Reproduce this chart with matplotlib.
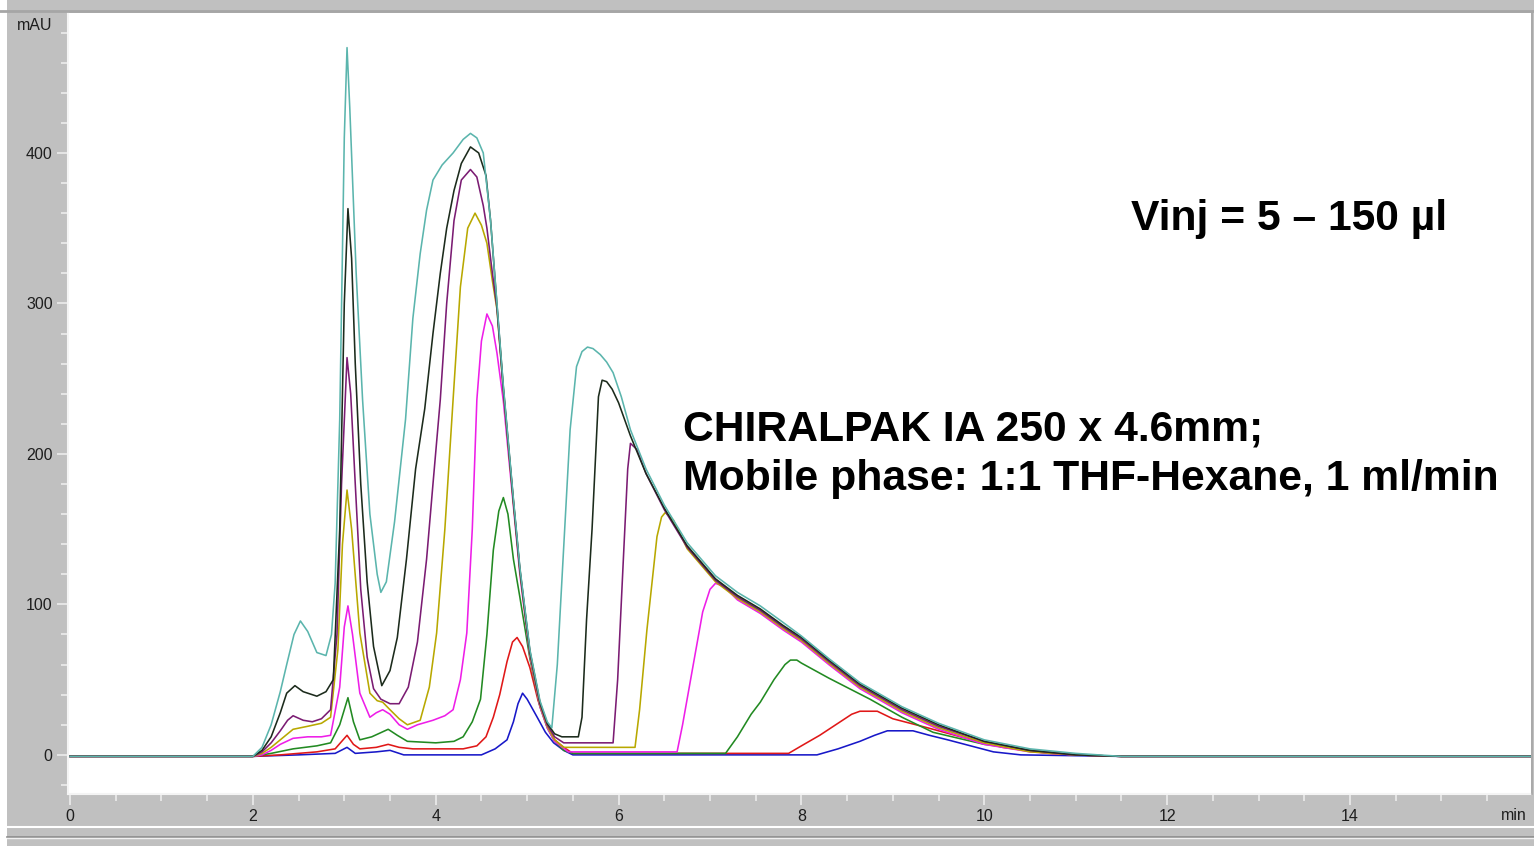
import matplotlib
matplotlib.use("Agg")
import matplotlib.pyplot as plt
from matplotlib.patches import Rectangle
from matplotlib.lines import Line2D
from matplotlib.ticker import MultipleLocator

plt.rcParams['font.family'] = ['Liberation Sans', 'DejaVu Sans']

# overlaid injections, largest volume first (time in min, signal in mAU)
teal_t = [0, 2.0, 2.1, 2.2, 2.3, 2.37, 2.45, 2.52, 2.6, 2.7, 2.8, 2.86, 2.9, 2.95, 3.0, 3.03,
          3.06, 3.13, 3.2, 3.28, 3.36, 3.4, 3.46, 3.55, 3.67, 3.75, 3.83, 3.9, 3.97, 4.07, 4.19,
          4.3, 4.38, 4.45, 4.52, 4.6, 4.67, 4.74, 4.85, 4.92, 5.03, 5.14, 5.22, 5.27, 5.33, 5.39,
          5.47, 5.54, 5.6, 5.66, 5.72, 5.8, 5.87, 5.94, 6.03, 6.13, 6.3, 6.5, 6.75, 7.06, 7.3,
          7.55, 7.8, 8.0, 8.3, 8.64, 9.1, 9.5, 10.0, 10.5, 11.0, 11.5, 16]
teal_y = [-1, -1, 5, 20, 42, 60, 80, 89, 82, 68, 66, 80, 114, 223, 410, 470,
          430, 320, 236, 160, 120, 108, 115, 155, 223, 290, 333, 362, 382, 392, 400,
          409, 413, 410, 400, 355, 300, 245, 170, 125, 70, 36, 22, 18, 60, 127,
          216, 258, 268, 271, 270, 266, 261, 254, 238, 216, 190, 166, 141, 119, 108,
          99, 88, 79, 64, 48, 32, 21, 10, 4, 1, -1, -1]

black_t = [0, 2.0, 2.1, 2.2, 2.3, 2.37, 2.46, 2.55, 2.7, 2.8, 2.88, 2.95, 3.0, 3.04, 3.08,
           3.12, 3.18, 3.25, 3.32, 3.41, 3.5, 3.58, 3.68, 3.78, 3.88, 3.97, 4.05, 4.12, 4.2,
           4.28, 4.38, 4.47, 4.55, 4.6, 4.67, 4.74, 4.85, 4.92, 5.03, 5.14, 5.22, 5.3, 5.38,
           5.56, 5.6, 5.65, 5.71, 5.78, 5.82, 5.87, 5.93, 6.0, 6.13, 6.3, 6.5, 6.75, 7.06, 7.3,
           7.55, 7.8, 8.0, 8.3, 8.64, 9.1, 9.5, 10.0, 10.5, 11.0, 11.5, 16]
black_y = [-1, -1, 3, 12, 28, 41, 46, 42, 39, 42, 50, 150, 300, 363, 330,
           260, 180, 115, 72, 46, 56, 78, 130, 190, 230, 280, 320, 350, 375,
           393, 404, 400, 385, 355, 299, 244, 169, 124, 69, 35, 21, 14, 12,
           12, 25, 90, 150, 238, 249, 248, 243, 234, 212, 187, 164, 139, 117, 106,
           97, 86, 78, 63, 47, 31, 20, 9, 3, 0, -1, -1]

purple_t = [0, 2.0, 2.1, 2.2, 2.3, 2.38, 2.44, 2.55, 2.65, 2.75, 2.85, 2.92, 2.97, 3.03, 3.07,
            3.12, 3.18, 3.25, 3.32, 3.4, 3.5, 3.6, 3.7, 3.8, 3.9, 3.97, 4.05, 4.12, 4.2, 4.28,
            4.38, 4.45, 4.52, 4.56, 4.62, 4.67, 4.74, 4.85, 4.92, 5.03, 5.14, 5.22, 5.3, 5.4,
            5.94, 5.99, 6.05, 6.1, 6.13, 6.2, 6.3, 6.5, 6.75, 7.06, 7.3, 7.55, 7.8, 8.0, 8.3,
            8.64, 9.1, 9.5, 10.0, 10.5, 11.0, 11.5, 16]
purple_y = [-1, -1, 2, 8, 16, 23, 26, 23, 22, 24, 30, 80, 180, 264, 240,
            180, 110, 65, 44, 37, 34, 34, 45, 75, 130, 180, 236, 300, 355, 382,
            389, 384, 365, 350, 320, 297, 242, 168, 123, 68, 34, 20, 12, 8,
            8, 50, 127, 190, 207, 203, 187, 163, 138, 116, 105, 96, 85, 77, 62,
            46, 30, 19, 9, 3, 0, -1, -1]

olive_t = [0, 2.0, 2.1, 2.2, 2.3, 2.44, 2.6, 2.75, 2.85, 2.93, 2.98, 3.03, 3.08, 3.17, 3.28,
           3.36, 3.42, 3.5, 3.6, 3.69, 3.83, 3.93, 4.01, 4.1, 4.19, 4.27, 4.35, 4.43, 4.5, 4.56,
           4.62, 4.67, 4.74, 4.85, 4.92, 5.03, 5.14, 5.22, 5.3, 5.4, 6.18, 6.23, 6.31, 6.42,
           6.47, 6.51, 6.6, 6.75, 7.06, 7.3, 7.55, 7.8, 8.0, 8.3, 8.64, 9.1, 9.5, 10.0, 10.5,
           11.0, 11.5, 16]
olive_y = [-1, -1, 1, 5, 10, 17, 19, 21, 25, 70, 140, 176, 150, 81, 41,
           36, 35, 30, 24, 20, 23, 45, 81, 150, 236, 311, 350, 360, 352, 340,
           315, 296, 242, 167, 122, 67, 33, 19, 10, 5, 5, 30, 83, 145,
           158, 161, 156, 137, 115, 104, 95, 84, 76, 61, 45, 29, 18, 8, 2,
           0, -1, -1]

magenta_t = [0, 2.0, 2.1, 2.2, 2.3, 2.44, 2.6, 2.75, 2.85, 2.95, 3.0, 3.04, 3.09, 3.17, 3.28,
             3.35, 3.42, 3.5, 3.6, 3.69, 3.8, 3.97, 4.1, 4.19, 4.27, 4.34, 4.4, 4.45, 4.5, 4.56,
             4.62, 4.67, 4.74, 4.85, 4.92, 5.03, 5.14, 5.22, 5.3, 5.45, 6.64, 6.7, 6.82, 6.92,
             7.0, 7.06, 7.15, 7.3, 7.55, 7.8, 8.0, 8.3, 8.64, 9.1, 9.5, 10.0, 10.5, 11.0, 11.5,
             16]
magenta_y = [-1, -1, 0, 3, 7, 11, 12, 12, 13, 45, 85, 99, 80, 41, 25,
             28, 30, 27, 20, 17, 20, 23, 26, 30, 50, 81, 150, 236, 275, 293,
             285, 267, 235, 165, 120, 66, 32, 18, 9, 2, 2, 20, 61, 95,
             110, 114, 112, 103, 94, 83, 75, 60, 44, 28, 17, 7, 2, 0, -1,
             -1]

green_t = [0, 2.0, 2.2, 2.44, 2.7, 2.85, 2.95, 3.04, 3.1, 3.17, 3.3, 3.48, 3.58, 3.69, 4.0,
           4.2, 4.3, 4.4, 4.49, 4.56, 4.63, 4.69, 4.74, 4.79, 4.85, 4.92, 5.03, 5.14, 5.22, 5.3,
           5.4, 5.5, 7.17, 7.3, 7.45, 7.55, 7.7, 7.82, 7.88, 7.95, 8.0, 8.3, 8.75, 9.1, 9.44,
           10.0, 10.5, 11.0, 11.5, 16]
green_y = [-1, -1, 1, 4, 6, 8, 20, 38, 22, 10, 12, 17, 13, 9, 8,
           9, 12, 22, 37, 80, 136, 162, 171, 160, 130, 105, 64, 32, 18, 9,
           3, 1, 1, 12, 27, 35, 50, 60, 63, 63, 61, 51, 37, 25, 15,
           7, 3, 0, -1, -1]

red_t = [0, 2.0, 2.3, 2.7, 2.9, 3.03, 3.1, 3.17, 3.35, 3.48, 3.6, 3.75, 4.3, 4.45, 4.55,
         4.63, 4.7, 4.78, 4.84, 4.89, 4.95, 5.03, 5.12, 5.22, 5.3, 5.4, 5.5, 7.86, 8.0, 8.2,
         8.4, 8.55, 8.64, 8.83, 9.0, 9.38, 9.74, 10.2, 10.7, 11.0, 11.5, 16]
red_y = [-1, -1, 0, 2, 4, 13, 7, 4, 5, 7, 5, 4, 4, 6, 12,
         25, 40, 62, 75, 78, 72, 58, 36, 19, 10, 5, 1, 1, 6, 13,
         21, 27, 29, 29, 24, 18, 12, 5, 1, 0, -1, -1]

blue_t = [0, 2.0, 2.5, 2.9, 3.03, 3.12, 3.35, 3.5, 3.65, 4.5, 4.65, 4.78, 4.85, 4.9, 4.95,
          5.0, 5.11, 5.2, 5.29, 5.4, 5.5, 8.17, 8.4, 8.64, 8.8, 8.94, 9.22, 9.4, 9.6, 9.85,
          10.1, 10.4, 11.5, 16]
blue_y = [-1, -1, 0, 1, 5, 1, 2, 3, 0, 0, 4, 10, 22, 34, 41,
          37, 25, 15, 8, 3, 0, 0, 4, 9, 13, 16, 16, 13, 10, 6,
          2, 0, -1, -1]

traces = [
    (blue_t, blue_y, '#1818c8'),
    (red_t, red_y, '#e01818'),
    (green_t, green_y, '#228a22'),
    (magenta_t, magenta_y, '#ee1ee8'),
    (olive_t, olive_y, '#b8a800'),
    (purple_t, purple_y, '#7b1c73'),
    (black_t, black_y, '#1c2b1c'),
    (teal_t, teal_y, '#5bb5ad'),
]

W, H = 1534, 846
fig = plt.figure(figsize=(W / 100, H / 100), dpi=100, facecolor='#c0c0c0')


def px_box(x0, y0, x1, y1):
    # pixel box (top-left origin) -> figure fractions
    return [x0 / W, 1 - y1 / H, (x1 - x0) / W, (y1 - y0) / H]


ax = fig.add_axes(px_box(68, 13, 1531, 794))
ax.set_facecolor('white')

for t, y, c in traces:
    ax.plot(t, y, color=c, lw=1.15, solid_joinstyle='round')

ax.set_xlim(-0.022, 15.98)
ax.set_ylim(-26, 493)

ax.xaxis.set_major_locator(MultipleLocator(2))
ax.xaxis.set_minor_locator(MultipleLocator(0.5))
ax.yaxis.set_major_locator(MultipleLocator(100))
ax.yaxis.set_minor_locator(MultipleLocator(20))
ax.set_yticks([0, 100, 200, 300, 400])

ax.tick_params(which='both', direction='out', color='#ececec', width=1.2,
               labelsize=11.5, labelcolor='#1e1e1e')
ax.tick_params(which='major', length=8, pad=3)
ax.tick_params(which='minor', length=5)
ax.tick_params(axis='x', which='major', pad=3)

for side in ['top', 'right']:
    ax.spines[side].set_visible(False)
for side in ['left', 'bottom']:
    ax.spines[side].set_color('#f4f4f4')
    ax.spines[side].set_linewidth(1.5)

# axis units
fig.text(35 / W, 1 - 25 / H, 'mAU', ha='center', va='center', fontsize=11.5, color='#1e1e1e')
fig.text(1514 / W, 1 - 815 / H, 'min', ha='center', va='center', fontsize=11.5, color='#1e1e1e')

# annotations
ax.text(11.6, 349, 'Vinj = 5 \u2013 150 \u00b5l', fontsize=30.7, fontweight='bold',
        ha='left', va='baseline')
ax.text(6.71, 209, 'CHIRALPAK IA 250 x 4.6mm;', fontsize=30.7, fontweight='bold',
        ha='left', va='baseline')
ax.text(6.71, 176, 'Mobile phase: 1:1 THF-Hexane, 1 ml/min', fontsize=30.7, fontweight='bold',
        ha='left', va='baseline')

# window frame around the plot area
fig.add_artist(Rectangle((0, 0), 7 / W, 1, transform=fig.transFigure,
                         facecolor='white', edgecolor='none'))
fig.add_artist(Line2D([0, 1], [1 - 11 / H] * 2, transform=fig.transFigure,
                      color='#a6a6a6', lw=2))
fig.add_artist(Line2D([1531.5 / W] * 2, [1 - 794 / H, 1 - 12 / H], transform=fig.transFigure,
                      color='#a6a6a6', lw=1.2))
fig.add_artist(Line2D([7 / W, 1], [1 - 827 / H] * 2, transform=fig.transFigure,
                      color='white', lw=1.5))
fig.add_artist(Line2D([7 / W, 1], [1 - 836.5 / H] * 2, transform=fig.transFigure,
                      color='#8c8c8c', lw=1.2))
fig.add_artist(Line2D([7 / W, 1], [1 - 838 / H] * 2, transform=fig.transFigure,
                      color='#f0f0f0', lw=1))

fig.savefig('out.png', dpi=100, facecolor=fig.get_facecolor())
